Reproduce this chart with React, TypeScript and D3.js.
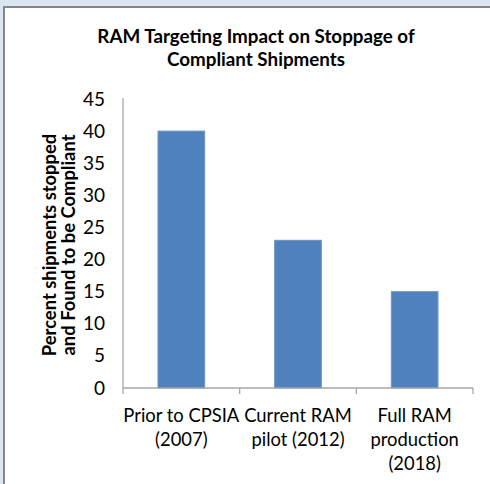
import { useEffect, useRef } from 'react';
import * as d3 from 'd3';

// chart data
const categories = ['Prior to CPSIA (2007)', 'Current RAM pilot (2012)', 'Full RAM production (2018)'];
const categoryLines = [['Prior to CPSIA', '(2007)'], ['Current RAM', 'pilot (2012)'], ['Full RAM', 'production', '(2018)']];
const values = [40, 23, 15];
const yTicks = [0, 5, 10, 15, 20, 25, 30, 35, 40, 45];
const titleLines = ['RAM Targeting Impact on Stoppage of', 'Compliant Shipments'];
const yTitleLines = ['Percent shipments stopped', 'and Found to be Compliant'];

const W = 490;
const H = 484;
const plot = { left: 123, right: 473, top: 99, bottom: 388 };
const FONT = 'Lato, "Open Sans", sans-serif';

const App = () => {
  const svgRef = useRef(null);

  useEffect(() => {
    const svg = d3.select(svgRef.current);
    svg.selectAll('*').remove();

    // window background and chart frame
    svg.append('rect').attr('width', W).attr('height', H).attr('fill', '#dce6f1');
    svg.append('rect')
      .attr('x', 4).attr('y', 7)
      .attr('width', W + 20).attr('height', H + 20)
      .attr('fill', '#ffffff')
      .attr('stroke', '#858585')
      .attr('stroke-width', 2);

    const x = d3.scaleBand()
      .domain(categories)
      .range([plot.left, plot.right])
      .paddingInner(0.6)
      .paddingOuter(0.3);

    const bounds = d3.scaleLinear().domain([0, categories.length]).range([plot.left, plot.right]);

    const y = d3.scaleLinear().domain([0, 45]).range([plot.bottom, plot.top]);

    // y axis labels
    const yAxis = svg.append('g')
      .attr('transform', `translate(${plot.left},0)`)
      .call(d3.axisLeft(y).tickValues(yTicks).tickSize(0).tickPadding(18));
    yAxis.select('.domain').remove();
    yAxis.selectAll('text')
      .attr('font-family', FONT)
      .attr('font-size', 19)
      .attr('fill', '#000');

    // bars
    svg.selectAll('rect.bar')
      .data(values)
      .join('rect')
      .attr('class', 'bar')
      .attr('x', (d, i) => x(categories[i]))
      .attr('y', d => y(d))
      .attr('width', x.bandwidth())
      .attr('height', d => plot.bottom - y(d))
      .attr('fill', '#4f81bd')
      .attr('stroke', '#6a94c8')
      .attr('stroke-width', 1);

    // axis lines
    const axisColor = '#a6a6a6';
    svg.append('line')
      .attr('x1', plot.left).attr('x2', plot.left)
      .attr('y1', y(45) - 1).attr('y2', plot.bottom + 6)
      .attr('stroke', axisColor).attr('stroke-width', 1.3);
    svg.append('line')
      .attr('x1', plot.left).attr('x2', plot.right)
      .attr('y1', plot.bottom).attr('y2', plot.bottom)
      .attr('stroke', axisColor).attr('stroke-width', 1.3);
    svg.selectAll('line.xtick')
      .data(d3.range(1, categories.length + 1))
      .join('line')
      .attr('class', 'xtick')
      .attr('x1', d => bounds(d)).attr('x2', d => bounds(d))
      .attr('y1', plot.bottom).attr('y2', plot.bottom + 6)
      .attr('stroke', axisColor).attr('stroke-width', 1.3);

    // category labels
    const catG = svg.selectAll('text.cat')
      .data(categories)
      .join('text')
      .attr('class', 'cat')
      .attr('text-anchor', 'middle')
      .attr('font-family', FONT)
      .attr('font-size', 18.4)
      .attr('fill', '#000');
    catG.selectAll('tspan')
      .data((d, i) => categoryLines[i].map(t => ({ t, c: d })))
      .join('tspan')
      .attr('x', d => x(d.c) + x.bandwidth() / 2)
      .attr('y', (d, j) => 422 + j * 24)
      .text(d => d.t);

    // title
    svg.append('g')
      .selectAll('text')
      .data(titleLines)
      .join('text')
      .attr('x', 256)
      .attr('y', (d, i) => 43 + i * 23)
      .attr('text-anchor', 'middle')
      .attr('font-family', FONT)
      .attr('font-weight', 'bold')
      .attr('font-size', 18.8)
      .text(d => d);

    // y axis title
    svg.append('g')
      .selectAll('text')
      .data(yTitleLines)
      .join('text')
      .attr('transform', (d, i) => `translate(${56 + i * 19},245) rotate(-90)`)
      .attr('text-anchor', 'middle')
      .attr('font-family', FONT)
      .attr('font-weight', 'bold')
      .attr('font-size', 18.4)
      .text(d => d);
  }, []);

  return (
    <svg
      ref={svgRef}
      width={W}
      height={H}
      style={{ position: 'absolute', left: 0, top: 0, display: 'block' }}
    />
  );
};

export default App;
